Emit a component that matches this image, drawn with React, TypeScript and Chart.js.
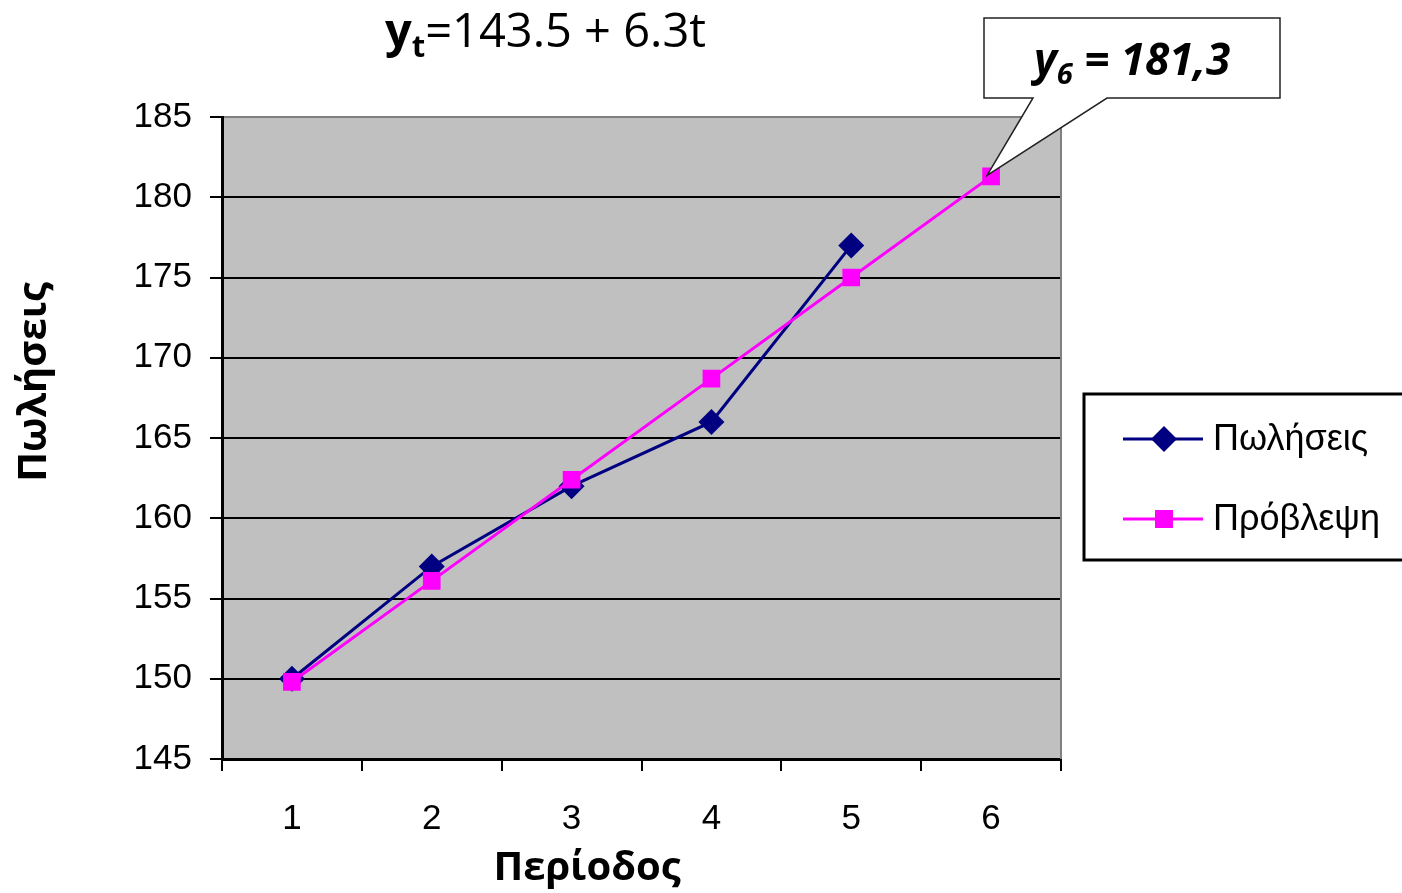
import React, { useEffect, useRef } from "react";
import { Chart, registerables } from "chart.js";

Chart.register(...registerables);

const periods = ["1", "2", "3", "4", "5", "6"];
const salesValues = [150, 157, 162, 166, 177, null];
const forecastValues = [149.8, 156.1, 162.4, 168.7, 175, 181.3];
const seriesNames = ["Πωλήσεις", "Πρόβλεψη"];
const yMin = 145;
const yMax = 185;
const yStep = 5;
const xAxisTitle = "Περίοδος";
const yAxisTitle = "Πωλήσεις";
const titleMain = "y";
const titleSub = "t";
const titleRest = "=143.5 + 6.3t";
const calloutMain = "y";
const calloutSub = "6";
const calloutRest = " = 181,3";

const NAVY = "#000080";
const MAGENTA = "#FF00FF";
const PLOT_BG = "#C0C0C0";
const SANS = "'Liberation Sans', Arial, sans-serif";
const HUMAN = "'Open Sans', 'Noto Sans', sans-serif";

function drawSegments(ctx: CanvasRenderingContext2D, x: number, y: number, segs: { text: string; font: string; dy: number }[]) {
  let cx = x;
  for (const s of segs) {
    ctx.font = s.font;
    ctx.fillText(s.text, cx, y + s.dy);
    cx += ctx.measureText(s.text).width;
  }
}

const decorPlugin = {
  id: "decor",
  beforeDraw(chart: any) {
    const { ctx, chartArea: a } = chart;
    ctx.save();
    ctx.fillStyle = PLOT_BG;
    ctx.fillRect(a.left, a.top, a.right - a.left, a.bottom - a.top);
    ctx.restore();
  },
  beforeDatasetsDraw(chart: any) {
    const { ctx, chartArea: a } = chart;
    ctx.save();
    ctx.strokeStyle = "#808080";
    ctx.lineWidth = 2;
    ctx.beginPath();
    ctx.moveTo(a.right, a.top);
    ctx.lineTo(a.right, a.bottom);
    ctx.stroke();
    ctx.restore();
  },
  afterDraw(chart: any) {
    const { ctx } = chart;
    ctx.save();
    ctx.fillStyle = "#000";
    ctx.textAlign = "left";
    ctx.textBaseline = "alphabetic";

    // Title
    drawSegments(ctx, 385, 47, [
      { text: titleMain, font: `bold 47px ${HUMAN}`, dy: 0 },
      { text: titleSub, font: `bold 31px ${HUMAN}`, dy: 10 },
      { text: titleRest, font: `47px ${HUMAN}`, dy: 0 },
    ]);

    // Axis titles
    ctx.font = `bold 40px ${HUMAN}`;
    ctx.textAlign = "center";
    ctx.textBaseline = "middle";
    ctx.fillText(xAxisTitle, 587, 869);
    ctx.save();
    ctx.translate(35, 382);
    ctx.rotate(-Math.PI / 2);
    ctx.fillText(yAxisTitle, 0, 0);
    ctx.restore();

    // Callout
    const pt = chart.getDatasetMeta(1).data[5];
    const tipX = pt.x - 4;
    const tipY = pt.y - 1;
    ctx.beginPath();
    ctx.moveTo(984, 18);
    ctx.lineTo(1280, 18);
    ctx.lineTo(1280, 98);
    ctx.lineTo(1107, 98);
    ctx.lineTo(tipX, tipY);
    ctx.lineTo(1033, 98);
    ctx.lineTo(984, 98);
    ctx.closePath();
    ctx.fillStyle = "#fff";
    ctx.fill();
    ctx.strokeStyle = "#222";
    ctx.lineWidth = 1.5;
    ctx.stroke();
    ctx.fillStyle = "#000";
    ctx.textAlign = "left";
    ctx.textBaseline = "alphabetic";
    drawSegments(ctx, 1034, 75, [
      { text: calloutMain, font: `italic bold 44px ${HUMAN}`, dy: 0 },
      { text: calloutSub, font: `italic bold 29px ${HUMAN}`, dy: 9 },
      { text: calloutRest, font: `italic bold 44px ${HUMAN}`, dy: 0 },
    ]);

    // Legend
    ctx.strokeStyle = "#000";
    ctx.lineWidth = 3;
    ctx.strokeRect(1084, 394, 340, 166);
    const rows = [
      { y: 439, color: NAVY, style: "diamond", name: seriesNames[0] },
      { y: 519, color: MAGENTA, style: "square", name: seriesNames[1] },
    ];
    for (const r of rows) {
      ctx.strokeStyle = r.color;
      ctx.lineWidth = 3;
      ctx.beginPath();
      ctx.moveTo(1123, r.y);
      ctx.lineTo(1203, r.y);
      ctx.stroke();
      ctx.fillStyle = r.color;
      ctx.beginPath();
      if (r.style === "diamond") {
        ctx.moveTo(1164, r.y - 13);
        ctx.lineTo(1177, r.y);
        ctx.lineTo(1164, r.y + 13);
        ctx.lineTo(1151, r.y);
        ctx.closePath();
      } else {
        ctx.rect(1155, r.y - 9, 18, 18);
      }
      ctx.fill();
      ctx.fillStyle = "#000";
      ctx.font = `36px ${SANS}`;
      ctx.textBaseline = "middle";
      ctx.fillText(r.name, 1213, r.y + 1);
    }
    ctx.restore();
  },
};

export default function App() {
  const canvasRef = useRef<HTMLCanvasElement | null>(null);

  useEffect(() => {
    const canvas = canvasRef.current;
    if (!canvas) return;
    const chart = new Chart(canvas, {
      type: "line",
      data: {
        labels: periods,
        datasets: [
          {
            label: seriesNames[0],
            data: salesValues,
            borderColor: NAVY,
            backgroundColor: NAVY,
            borderWidth: 3,
            pointStyle: "rectRot",
            pointRadius: 13,
            pointBorderWidth: 0,
            pointBackgroundColor: NAVY,
            tension: 0,
            order: 1,
          },
          {
            label: seriesNames[1],
            data: forecastValues,
            borderColor: MAGENTA,
            backgroundColor: MAGENTA,
            borderWidth: 3,
            pointStyle: "rect",
            pointRadius: 12.5,
            pointBorderWidth: 0,
            pointBackgroundColor: MAGENTA,
            tension: 0,
            order: 0,
          },
        ],
      },
      options: {
        responsive: false,
        animation: false,
        devicePixelRatio: 1,
        layout: { padding: { top: 117, right: 341, left: 0, bottom: 0 } },
        plugins: {
          legend: { display: false },
          title: { display: false },
          tooltip: { enabled: false },
        },
        scales: {
          x: {
            type: "category",
            offset: true,
            afterFit: (s: any) => {
              s.height = 134;
            },
            grid: {
              offset: true,
              drawOnChartArea: false,
              drawTicks: true,
              tickLength: 12,
              color: "#000",
              lineWidth: 2,
            },
            border: { color: "#000", width: 3 },
            ticks: {
              color: "#000",
              font: { family: SANS, size: 35 },
              padding: 27,
              maxRotation: 0,
            },
          },
          y: {
            min: yMin,
            max: yMax,
            afterFit: (s: any) => {
              s.width = 222;
            },
            grid: {
              color: (c: any) => (c.tick && c.tick.value === yMax ? "#808080" : "#000"),
              tickColor: "#000",
              lineWidth: 2,
              drawTicks: true,
              tickLength: 12,
            },
            border: { color: "#000", width: 3 },
            ticks: {
              stepSize: yStep,
              color: "#000",
              font: { family: SANS, size: 35 },
              padding: 18,
            },
          },
        },
      },
      plugins: [decorPlugin],
    } as any);
    return () => chart.destroy();
  }, []);

  return (
    <div style={{ position: "fixed", left: 0, top: 0, width: 1402, height: 893, background: "#fff" }}>
      <canvas ref={canvasRef} width={1402} height={893} style={{ display: "block" }} />
    </div>
  );
}
